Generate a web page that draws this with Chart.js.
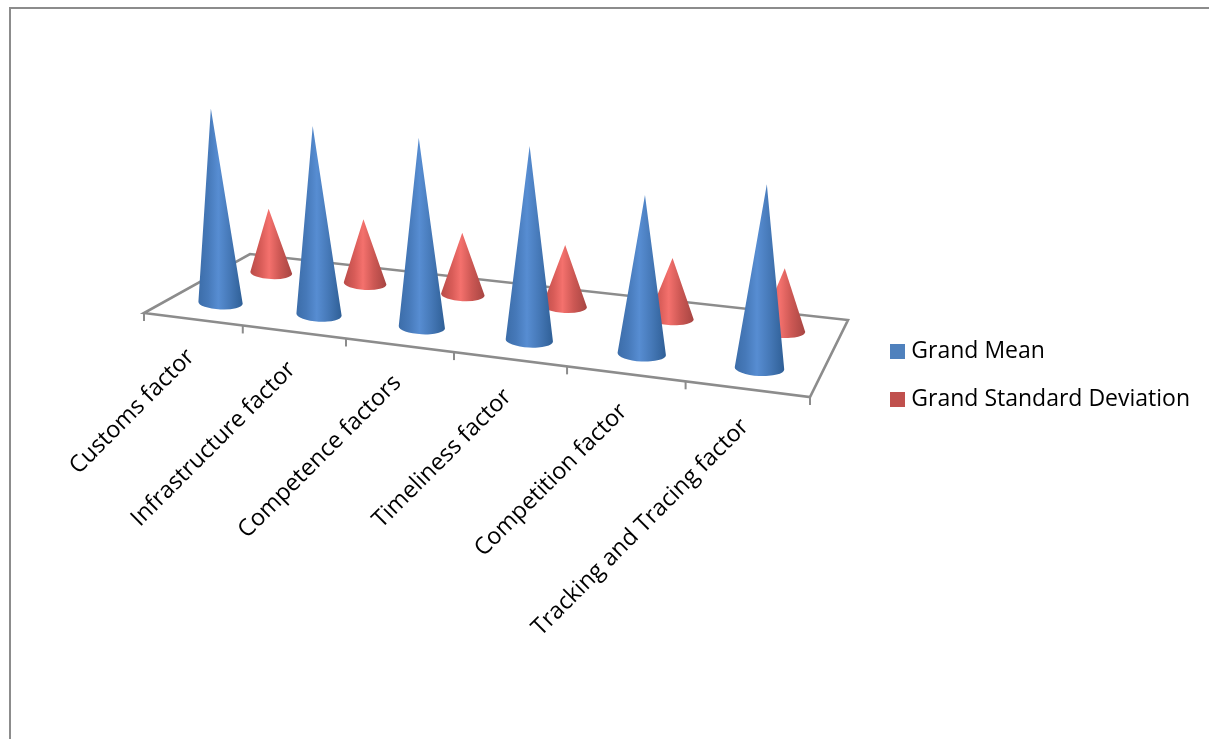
<!DOCTYPE html>
<html>
<head>
<meta charset="utf-8">
<style>
html,body{margin:0;padding:0;background:#fff;overflow:hidden;width:1209px;height:739px}
#frame{position:absolute;left:9px;top:7px;width:1300px;height:800px;border-left:2px solid #8c8c8c;border-top:2px solid #8c8c8c}
#wrap{position:absolute;left:0;top:0;width:1209px;height:739px}
</style>
<script src="https://cdn.jsdelivr.net/npm/chart.js@4/dist/chart.umd.min.js"></script>
</head>
<body>
<div id="frame"></div>
<div id="wrap"><canvas id="c" width="1209" height="739"></canvas></div>
<script>
const categories = ["Customs factor","Infrastructure factor","Competence factors","Timeliness factor","Competition factor","Tracking and Tracing factor"];
const grandMean = [3.96,3.77,3.70,3.71,2.97,3.36];
const grandSD = [1.38,1.36,1.28,1.24,1.20,1.22];
const seriesNames = ["Grand Mean","Grand Standard Deviation"];
const seriesColors = ["#4f81bd","#c0504d"];
const FONT = '"Open Sans"';

// Perspective floor of the 3D plot
const floor = {p0:[144,313],p1:[810,397],p2:[848,320],p3:[250,254]};
const wallHeight = 250, coneRadius = 22.6, coneRy = 6.9, depths = [0.25,0.75];
const shades = [
  {stops:[[0,"#3c6da9"],[0.22,"#4679b9"],[0.45,"#578dd2"],[0.7,"#4679b8"],[1,"#2f5f96"]]},
  {stops:[[0,"#b94c49"],[0.25,"#d85c58"],[0.45,"#f4716d"],[0.7,"#cd5854"],[1,"#a64542"]]}
];
function makeProjector(){
  const [x0,y0]=floor.p0,[x1,y1]=floor.p1,[x2,y2]=floor.p2,[x3,y3]=floor.p3;
  const sx=x0-x1+x2-x3, sy=y0-y1+y2-y3, dx1=x1-x2, dx2=x3-x2, dy1=y1-y2, dy2=y3-y2;
  const det=dx1*dy2-dx2*dy1;
  const g=(sx*dy2-dx2*sy)/det, h=(dx1*sy-sx*dy1)/det;
  const a=x1-x0+g*x1, b=x3-x0+h*x3, d=y1-y0+g*y1, e=y3-y0+h*y3;
  return (u,v)=>{const w=1+g*u+h*v;return {x:(x0+a*u+b*v)/w,y:(y0+d*u+e*v)/w,s:1/w};};
}
const project = makeProjector();

function drawCone(ctx,c,hpx,shade){
  const h=hpx*c.s, r=coneRadius*c.s, ry=coneRy*c.s, tilt=0.05;
  const tipX=c.x+(c.x-520)*h/6000, tipY=c.y-h;
  const lx=c.x-r*Math.cos(tilt), ly=c.y-r*Math.sin(tilt), rx=c.x+r*Math.cos(tilt);
  ctx.beginPath();
  ctx.moveTo(tipX,tipY);
  ctx.lineTo(lx,ly);
  ctx.ellipse(c.x,c.y,r,ry,tilt,Math.PI,0,true);
  ctx.lineTo(tipX,tipY);
  ctx.closePath();
  const gr=ctx.createLinearGradient(lx,0,rx,0);
  shade.stops.forEach(s=>gr.addColorStop(s[0],s[1]));
  ctx.fillStyle=gr;ctx.fill();
}

const swatches = seriesColors.map(col=>{
  const k=document.createElement('canvas');k.width=15;k.height=15;
  const x=k.getContext('2d');x.fillStyle=col;x.fillRect(0,0,15,15);return k;
});

const conePlugin = {
  id:'cone3d',
  beforeDatasetsDraw(chart){
    const ctx=chart.ctx,xs=chart.scales.x,ys=chart.scales.y,area=chart.chartArea;
    const U=i=>(xs.getPixelForValue(i)-area.left)/(area.right-area.left);
    ctx.save();
    ctx.strokeStyle='#8c8c8c';ctx.lineWidth=2.6;ctx.lineJoin='miter';
    const P=[project(0,0),project(1,0),project(1,1),project(0,1)];
    ctx.beginPath();P.forEach((p,i)=>i?ctx.lineTo(p.x,p.y):ctx.moveTo(p.x,p.y));ctx.closePath();ctx.stroke();
    ctx.lineWidth=2;
    for(let i=0;i<=categories.length;i++){
      const p=project(i/categories.length,0);
      ctx.beginPath();ctx.moveTo(p.x,p.y);ctx.lineTo(p.x,p.y+8);ctx.stroke();
    }
    for(let di=chart.data.datasets.length-1;di>=0;di--){
      chart.data.datasets[di].data.forEach((val,i)=>{
        const c=project(U(i),depths[di]);
        const hpx=(ys.getPixelForValue(0)-ys.getPixelForValue(val))/(ys.bottom-ys.top)*wallHeight;
        drawCone(ctx,c,hpx,shades[di]);
      });
    }
    ctx.fillStyle='#000';ctx.font='23.4px '+FONT;ctx.textAlign='right';ctx.textBaseline='middle';
    categories.forEach((lab,i)=>{
      const p=project(U(i),0);
      ctx.save();ctx.translate(p.x-2,p.y+34);ctx.rotate(-Math.PI/4);
      ctx.fillText(xs.getLabelForValue(i),0,0);ctx.restore();
    });
    ctx.restore();
    return false;
  }
};

new Chart(document.getElementById('c'),{
  type:'bar',
  data:{labels:categories,datasets:[
    {label:seriesNames[0],data:grandMean,backgroundColor:seriesColors[0]},
    {label:seriesNames[1],data:grandSD,backgroundColor:seriesColors[1]}
  ]},
  plugins:[conePlugin],
  options:{
    responsive:false,animation:false,
    layout:{padding:{top:12,right:9,bottom:0,left:0}},
    scales:{
      x:{display:false},
      y:{display:false,min:0,max:5}
    },
    plugins:{
      tooltip:{enabled:false},
      legend:{
        position:'right',
        labels:{
          usePointStyle:true,pointStyleWidth:4,boxWidth:4,boxHeight:15,padding:25,color:'#000',
          font:{family:FONT,size:23},
          generateLabels(chart){
            return Chart.defaults.plugins.legend.labels.generateLabels(chart).map((it,i)=>Object.assign(it,{pointStyle:swatches[i]}));
          }
        }
      }
    }
  }
});
</script>
</body>
</html>
